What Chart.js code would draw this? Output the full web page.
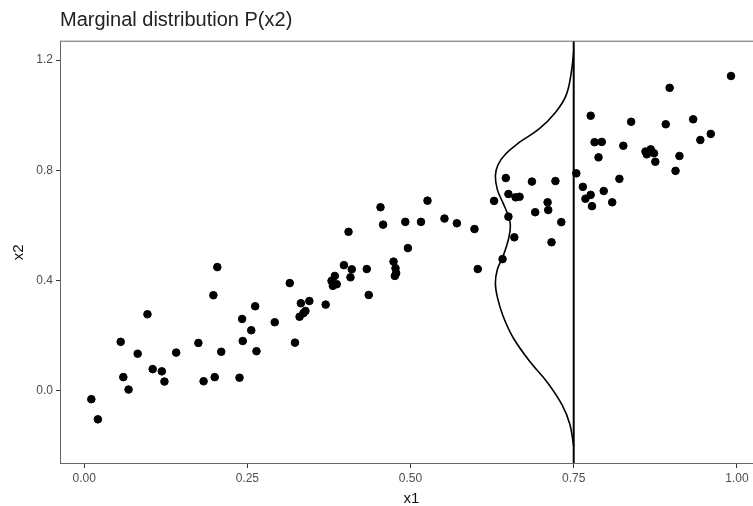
<!DOCTYPE html>
<html>
<head>
<meta charset="utf-8">
<script src="https://cdn.jsdelivr.net/npm/chart.js@4.4.1/dist/chart.umd.min.js"></script>
<style>
  html, body { margin: 0; padding: 0; background: #fff; overflow: hidden; }
  #wrap { width: 770px; height: 506px; position: relative; }
</style>
</head>
<body>
<div id="wrap"><canvas id="chart"></canvas></div>
<script>
// scatter points
const x1Values = [
    0.204, 0.198, 0.097, 0.262, 0.242, 0.256, 0.056, 0.175, 0.243, 0.082, 0.141, 0.210,
    0.264, 0.105, 0.119, 0.060, 0.123, 0.183, 0.200, 0.238, 0.068, 0.011, 0.021,
    0.454, 0.526, 0.458, 0.492, 0.516, 0.405, 0.496, 0.398, 0.410, 0.433, 0.474, 0.477,
    0.478, 0.476, 0.384, 0.408, 0.379, 0.387, 0.381, 0.315, 0.436, 0.345, 0.332, 0.370,
    0.339, 0.336, 0.330, 0.292, 0.323,
    0.646, 0.686, 0.722, 0.754, 0.650, 0.661, 0.667, 0.628, 0.710, 0.711, 0.691, 0.731,
    0.650, 0.552, 0.571, 0.598, 0.659, 0.716, 0.641, 0.603,
    0.991, 0.897, 0.776, 0.838, 0.891, 0.933, 0.782, 0.793, 0.826, 0.960, 0.944, 0.788,
    0.860, 0.868, 0.873, 0.862, 0.875, 0.912, 0.906, 0.820, 0.764, 0.796, 0.776, 0.768,
    0.778, 0.809
]
const x2Values = [
    0.449, 0.347, 0.278, 0.307, 0.261, 0.220, 0.178, 0.174, 0.181, 0.135, 0.139, 0.142,
    0.144, 0.079, 0.071, 0.050, 0.034, 0.035, 0.050, 0.048, 0.005, -0.030, -0.103,
    0.666, 0.690, 0.603, 0.613, 0.613, 0.577, 0.518, 0.456, 0.441, 0.442, 0.469, 0.445,
    0.427, 0.417, 0.417, 0.412, 0.399, 0.387, 0.381, 0.391, 0.348, 0.326, 0.318, 0.313,
    0.290, 0.282, 0.269, 0.249, 0.175,
    0.772, 0.759, 0.761, 0.789, 0.714, 0.702, 0.704, 0.689, 0.684, 0.656, 0.648, 0.612,
    0.632, 0.625, 0.608, 0.587, 0.557, 0.539, 0.478, 0.442,
    1.142, 1.099, 0.998, 0.976, 0.967, 0.985, 0.902, 0.903, 0.889, 0.932, 0.910, 0.847,
    0.868, 0.876, 0.862, 0.858, 0.831, 0.852, 0.798, 0.769, 0.740, 0.725, 0.711, 0.697,
    0.670, 0.684
]

// marginal density P(x2), drawn sideways to the left of the slice
const sliceX1 = 0.75
const densityX2 = [
    1.23, 1.15, 1.07, 1.01, 0.95, 0.90, 0.86, 0.82, 0.78, 0.73, 0.68, 0.64, 0.60,
    0.55, 0.49, 0.44, 0.39, 0.34, 0.27, 0.19, 0.10, 0.03, -0.05, -0.12, -0.20
]
const densityWidth = [
    0.000, 0.004, 0.012, 0.028, 0.053, 0.084, 0.104, 0.116, 0.120, 0.117, 0.108, 0.101, 0.097,
    0.100, 0.108, 0.117, 0.120, 0.117, 0.108, 0.092, 0.065, 0.040, 0.018, 0.006, 0.000
]

const xTicks = [0, 0.25, 0.5, 0.75, 1.0]
const yTicks = [0, 0.4, 0.8, 1.2]

const X_MIN = -0.037, X_MAX = 1.04
const Y_MIN = -0.265, Y_MAX = 1.27

const FONT = '"Liberation Sans", Arial, Helvetica, sans-serif'

let points = x1Values.map((v, i) => ({ x: v, y: x2Values[i] }))
let curve = densityX2.map((v, i) => ({ x: sliceX1 - densityWidth[i], y: v }))
let vline = [{ x: sliceX1, y: Y_MIN }, { x: sliceX1, y: Y_MAX }]

// panel border like ggplot theme_bw
const panelBorder = {
    id: 'panelBorder',
    afterDraw(chart) {
        const a = chart.chartArea
        const ctx = chart.ctx
        ctx.save()
        ctx.strokeStyle = '#666'
        ctx.lineWidth = 1
        ctx.strokeRect(a.left + 0.5, a.top + 0.5, a.right - a.left - 1, a.bottom - a.top - 1)
        ctx.restore()
    }
}

new Chart(document.getElementById('chart'), {
    type: 'scatter',
    data: {
        datasets: [
            {
                label: 'points',
                data: points,
                backgroundColor: '#000',
                borderColor: '#000',
                pointRadius: 3.8,
                pointHoverRadius: 3.8
            },
            {
                label: 'density',
                type: 'line',
                data: curve,
                borderColor: '#000',
                borderWidth: 1.6,
                pointRadius: 0,
                tension: 0.4,
                fill: false
            },
            {
                label: 'slice',
                type: 'line',
                data: vline,
                borderColor: '#000',
                borderWidth: 2,
                pointRadius: 0,
                fill: false
            }
        ]
    },
    options: {
        responsive: true,
        maintainAspectRatio: false,
        animation: false,
        layout: { padding: { left: 0, right: 7, top: 0, bottom: 0 } },
        plugins: {
            legend: { display: false },
            tooltip: { enabled: false },
            title: {
                display: true,
                text: 'Marginal distribution P(x2)',
                align: 'start',
                fullSize: false,
                color: '#222',
                font: { family: FONT, size: 20, weight: 'normal' },
                padding: { top: 8, bottom: 8.7 }
            }
        },
        scales: {
            x: {
                type: 'linear',
                min: X_MIN,
                max: X_MAX,
                afterFit: s => { s.height = 42 },
                afterBuildTicks: s => { s.ticks = xTicks.map(v => ({ value: v })) },
                grid: { drawOnChartArea: false, tickLength: 4, color: '#333' },
                border: { display: false },
                ticks: {
                    padding: 3,
                    color: '#4d4d4d',
                    font: { family: FONT, size: 12 },
                    callback: v => v.toFixed(2),
                    maxRotation: 0
                },
                title: {
                    display: true,
                    text: 'x1',
                    color: '#111',
                    font: { family: FONT, size: 15, lineHeight: 1 },
                    padding: { top: 0, bottom: 0 }
                }
            },
            y: {
                type: 'linear',
                min: Y_MIN,
                max: Y_MAX,
                afterFit: s => { s.width = 60 },
                afterBuildTicks: s => { s.ticks = yTicks.map(v => ({ value: v })) },
                grid: { drawOnChartArea: false, tickLength: 4, color: '#333' },
                border: { display: false },
                ticks: {
                    padding: 3,
                    color: '#4d4d4d',
                    font: { family: FONT, size: 12 },
                    callback: v => v.toFixed(1)
                },
                title: {
                    display: true,
                    text: 'x2',
                    color: '#111',
                    font: { family: FONT, size: 15, lineHeight: 1.2 },
                    padding: { top: 10, bottom: 0 }
                }
            }
        }
    },
    plugins: [panelBorder]
})
</script>
</body>
</html>
